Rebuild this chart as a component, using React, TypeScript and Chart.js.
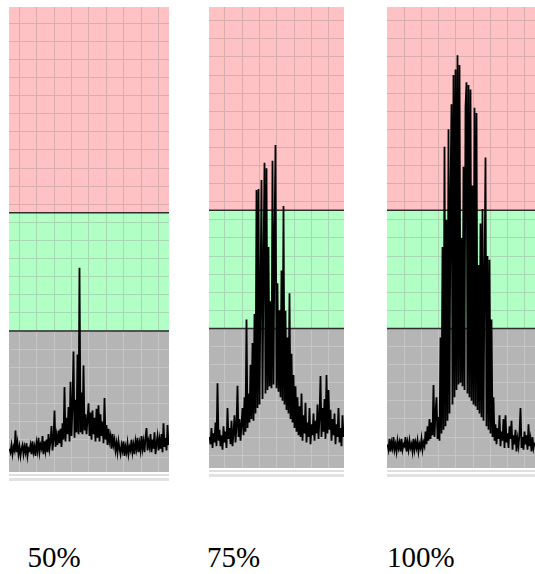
import React, { useEffect, useRef } from "react";
import { Chart, registerables } from "chart.js";

Chart.register(...registerables);

// ---------- data (levels in grid-cell units, one sample per column) ----------
const PANEL_LABELS = ["50%", "75%", "100%"];

const SIGNAL_50 = [
  0.5, 0.3, 0.7, 0.2, 0.6, 0.4, 1.5, 0.3, 0.8, 0.2,
  0.6, 0.1, 0.5, 0.7, 0.2, 0.6, 0.3, 0.8, 0.1, 0.5,
  0.4, 0.7, 0.2, 0.9, 0.3, 0.6, 0.1, 0.8, 0.4, 1.1,
  0.3, 0.7, 0.5, 1.2, 0.2, 0.9, 0.4, 1.0, 0.3, 1.3,
  0.5, 0.9, 1.75, 0.4, 1.0, 2.6, 0.6, 1.2, 0.7, 1.5,
  0.8, 1.6, 0.6, 1.9, 1.0, 3.9, 0.9, 2.2, 1.3, 2.8,
  0.9, 4.2, 1.2, 2.9, 5.86, 1.1, 3.2, 1.4, 5.7, 1.3,
  10.5, 1.4, 3.6, 1.3, 5.1, 1.5, 2.4, 1.3, 2.1, 3.0,
  1.2, 2.5, 1.0, 2.6, 1.3, 2.2, 0.9, 2.7, 1.1, 2.9,
  0.9, 2.4, 1.2, 2.0, 0.8, 3.3, 1.0, 1.8, 0.7, 1.6,
  0.9, 1.2, 0.5, 1.3, 0.7, 1.0, 0.4, 0.8, 0.3, 0.9,
  0.5, 0.2, 0.7, 0.4, 0.9, 0.1, 0.6, 0.3, 0.8, 0.2,
  0.6, 0.4, 1.0, 0.3, 0.7, 0.2, 0.9, 0.5, 1.1, 0.3,
  0.8, 0.4, 1.2, 0.5, 0.9, 0.3, 1.1, 1.64, 0.4, 0.9,
  0.6, 1.3, 0.3, 1.0, 0.5, 1.4, 0.2, 0.8, 1.2, 0.4,
  1.0, 0.5, 1.3, 0.3, 1.9, 0.6, 1.1, 0.4, 1.8, 0.7,
];

const SIGNAL_75 = [
  1.0, 0.6, 1.5, 0.4, 1.2, 0.7, 1.8, 0.5, 3.97, 0.8,
  1.4, 0.5, 1.1, 0.3, 1.6, 0.7, 1.3, 0.4, 2.6, 0.9,
  1.5, 0.6, 1.9, 0.5, 1.2, 2.2, 0.7, 1.6, 3.83, 1.0,
  2.0, 0.8, 1.7, 2.6, 1.1, 3.2, 1.3, 7.5, 1.5, 3.4,
  1.8, 5.0, 2.0, 6.2, 1.9, 7.8, 2.3, 14.65, 2.6, 14.7,
  2.8, 9.0, 15.2, 3.1, 10.5, 16.15, 3.4, 15.85, 3.6, 11.5,
  3.8, 8.5, 3.7, 16.27, 3.9, 12.0, 17.13, 3.7, 9.5, 3.5,
  8.0, 3.2, 10.2, 3.0, 13.76, 2.8, 7.98, 2.5, 6.5, 2.3,
  8.94, 2.0, 5.6, 1.8, 4.43, 1.5, 3.8, 1.3, 3.2, 1.1,
  2.7, 1.0, 3.4, 0.8, 2.2, 1.2, 2.9, 0.7, 1.8, 1.0,
  2.6, 0.6, 1.7, 1.1, 2.3, 0.8, 1.9, 1.2, 2.8, 0.9,
  2.1, 4.37, 1.0, 2.6, 1.3, 3.1, 0.9, 4.43, 1.2, 3.6,
  1.4, 2.5, 0.8, 2.0, 1.1, 2.3, 0.6, 1.7, 1.0, 2.6,
  0.7, 1.5, 0.5, 2.2, 1.0,
];

const SIGNAL_100 = [
  0.6, 0.3, 0.9, 0.2, 0.7, 0.4, 1.0, 0.3, 0.6, 0.2,
  0.8, 0.4, 0.7, 0.2, 0.9, 0.3, 0.6, 0.5, 1.0, 0.2,
  0.7, 0.3, 0.8, 0.4, 0.6, 0.2, 0.9, 0.3, 0.7, 0.4,
  0.8, 0.2, 0.6, 0.4, 0.9, 0.3, 0.7, 0.5, 1.3, 0.6,
  1.6, 0.8, 2.0, 0.9, 1.8, 1.1, 3.87, 1.0, 2.3, 3.2,
  0.9, 2.1, 0.8, 6.5, 1.2, 11.5, 1.4, 17.04, 1.6, 13.0,
  1.9, 18.0, 2.3, 14.5, 19.38, 2.8, 21.0, 3.2, 21.3, 3.6,
  22.1, 3.9, 21.55, 4.0, 12.0, 3.8, 15.93, 3.6, 19.2, 20.6,
  3.4, 20.45, 3.2, 20.2, 3.0, 14.9, 2.8, 19.2, 2.7, 18.9,
  2.5, 10.5, 2.3, 12.8, 2.1, 13.6, 1.9, 9.8, 16.45, 1.6,
  11.0, 1.4, 10.8, 1.2, 7.5, 1.0, 3.2, 0.8, 1.7, 0.6,
  1.5, 0.9, 2.2, 0.5, 1.3, 0.8, 2.0, 0.4, 2.2, 0.7,
  1.2, 0.4, 1.6, 0.9, 1.9, 0.3, 1.1, 0.6, 1.4, 0.2,
  0.9, 0.5, 1.2, 2.6, 0.4, 1.0, 0.3, 1.3, 0.6, 1.1,
  0.3, 1.7, 0.5, 0.9, 0.2, 1.0, 0.4, 0.7,
];

// grid line values (vertical and horizontal)
const GRID_X_50 = [0, 1, 2, 3, 4, 5, 6, 7, 8];
const GRID_X_75 = [0, 1, 2, 3, 4, 5, 6];
const GRID_X_100 = [0, 1, 2, 3, 4, 5, 6, 7];
const GRID_Y = [
  0, 1, 2, 3, 4, 5, 6, 7, 8, 9, 10, 11, 12,
  13, 14, 15, 16, 17, 18, 19, 20, 21, 22, 23, 24,
];

// band limits: gray below the first, green between, pink above the second
const BAND_LIMITS = [7, 13.53];

// axis ranges
const X_RANGE_50 = [-0.592, 8.603];
const X_RANGE_75 = [-0.925, 6.88];
const X_RANGE_100 = [-1.0, 7.58];
const Y_RANGE_50 = [-0.79, 24.9];
const Y_RANGE_75 = [-0.71, 24.76];
const Y_RANGE_100 = [-0.71, 24.76];

// ---------- styles ----------
const PINK = "#ffc2c4";
const GREEN = "#b2ffc6";
const GRAY = "#b5b5b5";
const GRID_PINK = "#d8adb0";
const GRID_GREEN = "#a6d8b3";
const GRID_GRAY = "#c5c5c5";
const BOUNDARY = "#2e2e2e";

const PANELS = [
  { label: PANEL_LABELS[0], data: SIGNAL_50, gridX: GRID_X_50, xRange: X_RANGE_50, yRange: Y_RANGE_50, left: 9, top: 7, width: 160, plotHeight: 465, labelLeft: 27.5 },
  { label: PANEL_LABELS[1], data: SIGNAL_75, gridX: GRID_X_75, xRange: X_RANGE_75, yRange: Y_RANGE_75, left: 209, top: 7, width: 135, plotHeight: 461, labelLeft: 207 },
  { label: PANEL_LABELS[2], data: SIGNAL_100, gridX: GRID_X_100, xRange: X_RANGE_100, yRange: Y_RANGE_100, left: 387, top: 7, width: 148, plotHeight: 461, labelLeft: 387 },
];

const BOTTOM_PAD = 12;

const bandPlugin = {
  id: "bands",
  beforeDraw(chart: any) {
    const { ctx, chartArea: a, scales } = chart;
    const y = scales.y;
    const yGray = y.getPixelForValue(BAND_LIMITS[0]);
    const yGreen = y.getPixelForValue(BAND_LIMITS[1]);
    ctx.save();
    ctx.fillStyle = PINK;
    ctx.fillRect(a.left, a.top, a.width, yGreen - a.top);
    ctx.fillStyle = GREEN;
    ctx.fillRect(a.left, yGreen, a.width, yGray - yGreen);
    ctx.fillStyle = GRAY;
    ctx.fillRect(a.left, yGray, a.width, a.bottom - yGray);
    // pale strip under the plot
    ctx.fillStyle = "#dedede";
    ctx.fillRect(a.left, a.bottom + 2, a.width, 2);
    ctx.fillStyle = "#e2e2e2";
    ctx.fillRect(a.left, a.bottom + 6, a.width, 3);
    ctx.restore();
  },
  beforeDatasetsDraw(chart: any) {
    const { ctx, chartArea: a, scales } = chart;
    const y = scales.y;
    ctx.save();
    ctx.strokeStyle = BOUNDARY;
    ctx.lineWidth = 1.5;
    for (const v of BAND_LIMITS) {
      const py = y.getPixelForValue(v);
      ctx.beginPath();
      ctx.moveTo(a.left, py);
      ctx.lineTo(a.right, py);
      ctx.stroke();
    }
    ctx.restore();
  },
};

function verticalGridColor(c: any) {
  const chart = c.chart;
  const a = chart && chart.chartArea;
  const y = chart && chart.scales && chart.scales.y;
  if (!a || !y || !a.height) return GRID_PINK;
  const g = chart.ctx.createLinearGradient(0, a.top, 0, a.bottom);
  const f1 = Math.min(1, Math.max(0, (y.getPixelForValue(BAND_LIMITS[1]) - a.top) / a.height));
  const f2 = Math.min(1, Math.max(0, (y.getPixelForValue(BAND_LIMITS[0]) - a.top) / a.height));
  g.addColorStop(0, GRID_PINK);
  g.addColorStop(f1, GRID_PINK);
  g.addColorStop(f1, GRID_GREEN);
  g.addColorStop(f2, GRID_GREEN);
  g.addColorStop(f2, GRID_GRAY);
  g.addColorStop(1, GRID_GRAY);
  return g;
}

function horizontalGridColor(c: any) {
  const v = c.tick ? c.tick.value : 0;
  if (v < BAND_LIMITS[0]) return GRID_GRAY;
  if (v < BAND_LIMITS[1]) return GRID_GREEN;
  return GRID_PINK;
}

function Panel(props: any) {
  const { p } = props;
  const ref = useRef<HTMLCanvasElement | null>(null);
  useEffect(() => {
    if (!ref.current) return;
    const n = p.data.length;
    const [x0, x1] = p.xRange;
    const points = p.data.map((v: number, i: number) => ({
      x: x0 + ((i + 0.5) * (x1 - x0)) / n,
      y: v,
    }));
    const chart = new Chart(ref.current, {
      type: "line",
      data: {
        datasets: [
          {
            data: points,
            borderColor: "#000000",
            borderWidth: 1.8,
            borderJoinStyle: "miter",
            pointRadius: 0,
            tension: 0,
            fill: false,
          },
        ],
      },
      options: {
        animation: false,
        responsive: false,
        maintainAspectRatio: false,
        events: [],
        layout: { padding: { left: 0, right: 0, top: 0, bottom: BOTTOM_PAD } },
        plugins: { legend: { display: false }, tooltip: { enabled: false }, title: { display: false } },
        scales: {
          x: {
            type: "linear",
            min: x0,
            max: x1,
            afterBuildTicks: (scale: any) => {
              scale.ticks = p.gridX.map((v: number) => ({ value: v }));
            },
            ticks: { display: false },
            border: { display: false },
            grid: { drawTicks: false, color: verticalGridColor, lineWidth: 1 },
          },
          y: {
            type: "linear",
            min: p.yRange[0],
            max: p.yRange[1],
            afterBuildTicks: (scale: any) => {
              scale.ticks = GRID_Y.map((v: number) => ({ value: v }));
            },
            ticks: { display: false },
            border: { display: false },
            grid: { drawTicks: false, color: horizontalGridColor, lineWidth: 1 },
          },
        },
      } as any,
      plugins: [bandPlugin],
    });
    return () => chart.destroy();
  }, [p]);

  return (
    <canvas
      ref={ref}
      width={p.width}
      height={p.plotHeight + BOTTOM_PAD}
      style={{
        position: "absolute",
        left: p.left,
        top: p.top,
        width: p.width,
        height: p.plotHeight + BOTTOM_PAD,
      }}
    />
  );
}

export default function App() {
  return (
    <div
      style={{
        position: "absolute",
        left: 0,
        top: 0,
        width: 535,
        height: 574,
        overflow: "hidden",
        background: "#ffffff",
      }}
    >
      {PANELS.map((p) => (
        <Panel key={p.label} p={p} />
      ))}
      {PANELS.map((p) => (
        <div
          key={"l" + p.label}
          style={{
            position: "absolute",
            left: p.labelLeft,
            top: 542.7,
            fontFamily: "'Liberation Serif', 'Times New Roman', serif",
            fontSize: 29,
            lineHeight: "29px",
            color: "#000",
            whiteSpace: "nowrap",
          }}
        >
          {p.label}
        </div>
      ))}
    </div>
  );
}
